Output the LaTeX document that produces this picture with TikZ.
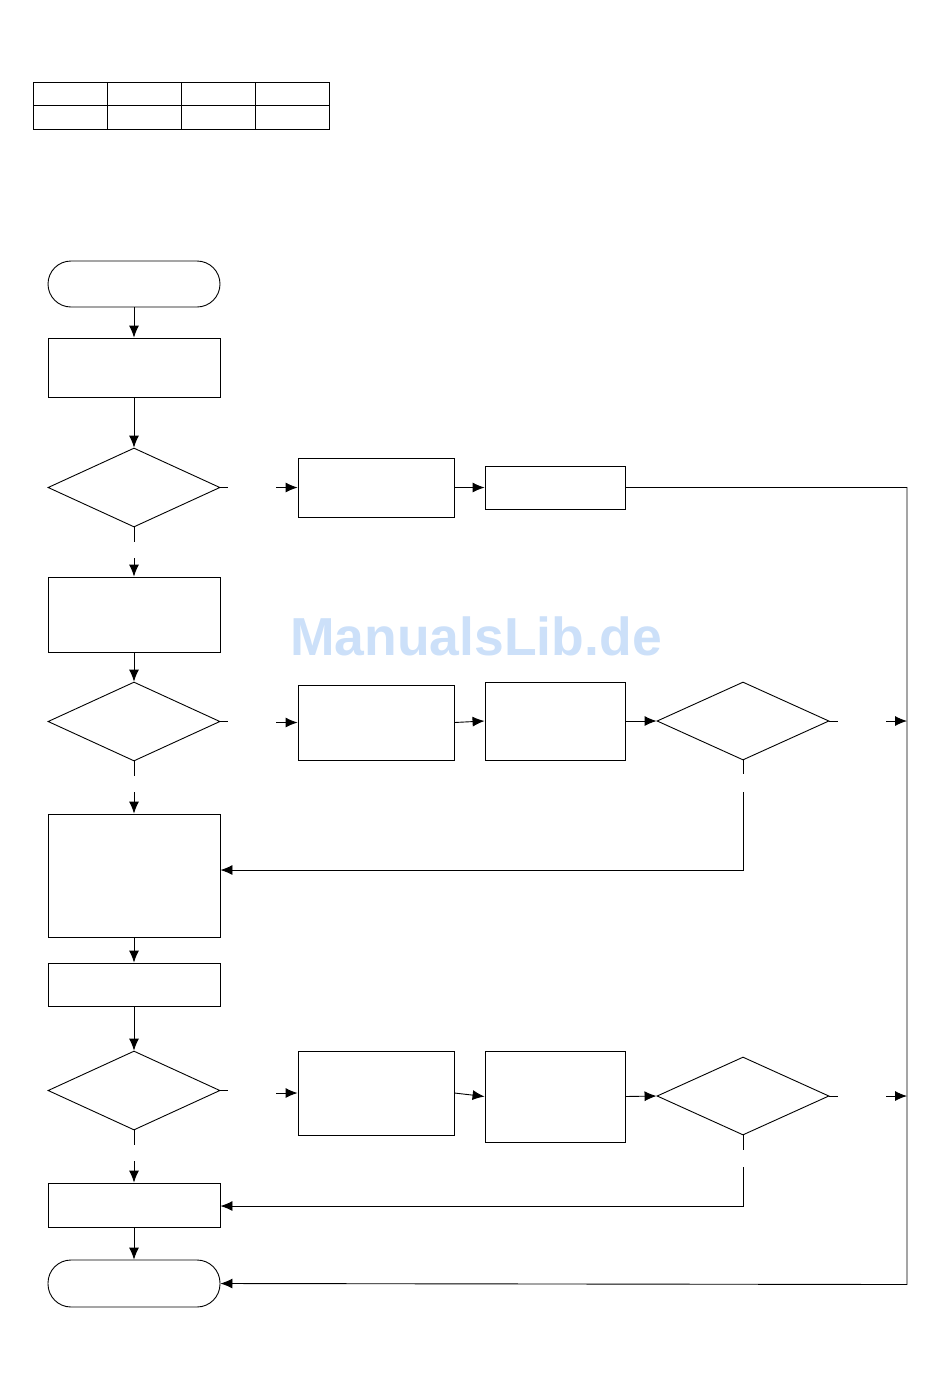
\documentclass[tikz,border=0pt]{standalone}
\usepackage{fontspec}
\usepackage{xcolor}
\usepackage{tikz}
\usetikzlibrary{arrows.meta}
\usetikzlibrary{shapes.geometric}
\usetikzlibrary{positioning}

\newfontfamily\markfont{Liberation Sans}
\definecolor{markblue}{RGB}{204,224,249}

\begin{document}
\begin{tikzpicture}[x=1pt, y=-1pt, line width=0.9pt, >={Latex[length=12pt,width=10pt]}]

        \def\w{172pt}

        % Looks of the chart shapes
        \tikzset{
            box/.style={draw, rectangle, inner sep=0pt, minimum width=\w},
            decision/.style={draw, diamond, inner sep=0pt,
                minimum width=\w, minimum height=79pt},
            term/.style={draw, rounded corners=23pt, inner sep=0pt,
                minimum width=\w, minimum height=46pt},
            cell/.style={draw, rectangle, inner sep=0pt,
                minimum width=74pt, minimum height=23.5pt}
        }

        \useasboundingbox (0,0) rectangle (950,1379);

        % Header table
        \foreach\i in {1,...,4}
        {
            \node[cell] (T1\i) at (33+74*\i-37, 93.75) {};
            \node[cell] (T2\i) at (33+74*\i-37, 117.25) {};
        }

        \node[font=\markfont\bfseries\fontsize{53.5}{53.5}\selectfont,
            text=markblue] (mark) at (476,636) {ManualsLib.de};

        % Main column
        \begin{scope}
            \node[term] (start) at (134,284) {};
            \node[box, minimum height=59pt] (P1) at (134,367.5) {};
            \node[decision] (D1) at (134,487.5) {};
            \node[box, minimum height=75pt] (P2) at (134,614.5) {};
            \node[decision] (D2) at (134,721.5) {};
            \node[box, minimum height=123pt] (P3) at (134,875.5) {};
            \node[box, minimum height=43pt] (P4) at (134,984.5) {};
            \node[decision] (D4) at (134,1090.5) {};
            \node[box, minimum height=44pt] (P5) at (134,1205) {};
            \node[term, minimum height=47pt] (stop) at (134,1283.5) {};
        \end{scope}

        % Side branches
        \begin{scope}
            \node[box, minimum width=156pt, minimum height=59pt] (A1) at (376,487.5) {};
            \node[box, minimum width=140pt, minimum height=43pt] (A2) at (555,487.5) {};

            \node[box, minimum width=156pt, minimum height=75pt] (B1) at (376,722.5) {};
            \node[box, minimum width=140pt, minimum height=78pt] (B2) at (555,721) {};
            \node[decision, minimum height=78pt] (D3) at (743,721) {};

            \node[box, minimum width=156pt, minimum height=84pt] (C1) at (376,1093) {};
            \node[box, minimum width=140pt, minimum height=91pt] (C2) at (555,1096.5) {};
            \node[decision, minimum height=78pt] (D5) at (743,1096) {};
        \end{scope}

        % Ends of the broken connectors
        \coordinate (d1r) at (228,487.5);   \coordinate (a1l) at (276,487.5);
        \coordinate (d1b) at (134,542);     \coordinate (p2t) at (134,558);
        \coordinate (d2r) at (228,721.5);   \coordinate (b1l) at (276,722.5);
        \coordinate (d2b) at (134,776);     \coordinate (p3t) at (134,792);
        \coordinate (d3r) at (838,721);     \coordinate (r3l) at (886,721);
        \coordinate (d3b) at (743,774);     \coordinate (p3r) at (743,792);
        \coordinate (d3c) at (743,870);
        \coordinate (d4r) at (228,1090.5);  \coordinate (c1l) at (276,1093);
        \coordinate (d4b) at (134,1145);    \coordinate (p5t) at (134,1161);
        \coordinate (d5r) at (838,1096);    \coordinate (r5l) at (886,1096);
        \coordinate (d5b) at (743,1150);    \coordinate (p5r) at (743,1167);
        \coordinate (d5c) at (743,1206);
        \coordinate (rtop) at (907,487.5);  \coordinate (rbot) at (907,1284.5);

        \begin{scope}
            \draw[->] (start) -- (P1);
            \draw[->] (P1) -- (D1);
            \draw (D1.east) -- (d1r);
            \draw[->] (a1l) -- (A1.west);
            \draw[->] (A1.east) -- (A2.west);
            \draw[->] (A2.east) -- (rtop) -- (rbot) -- (stop.east);
            \draw (D1.south) -- (d1b);
            \draw[->] (p2t) -- (P2.north);

            \draw[->] (P2) -- (D2);
            \draw (D2.east) -- (d2r);
            \draw[->] (b1l) -- (B1.west);
            \draw[->] (B1.east) -- (B2.west);
            \draw[->] (B2.east) -- (D3.west);
            \draw (D3.east) -- (d3r);
            \draw[->] (r3l) -- (r3l -| rtop);
            \draw (D3.south) -- (d3b);
            \draw[->] (p3r) -- (d3c) -- (d3c -| P3.east);
            \draw (D2.south) -- (d2b);
            \draw[->] (p3t) -- (P3.north);

            \draw[->] (P3) -- (P4);
            \draw[->] (P4) -- (D4);
            \draw (D4.east) -- (d4r);
            \draw[->] (c1l) -- (C1.west);
            \draw[->] (C1.east) -- (C2.west);
            \draw[->] (C2.east) -- (D5.west);
            \draw (D5.east) -- (d5r);
            \draw[->] (r5l) -- (r5l -| rtop);
            \draw (D5.south) -- (d5b);
            \draw[->] (p5r) -- (d5c) -- (d5c -| P5.east);
            \draw (D4.south) -- (d4b);
            \draw[->] (p5t) -- (P5.north);
            \draw[->] (P5) -- (stop);
        \end{scope}

\end{tikzpicture}
\end{document}
